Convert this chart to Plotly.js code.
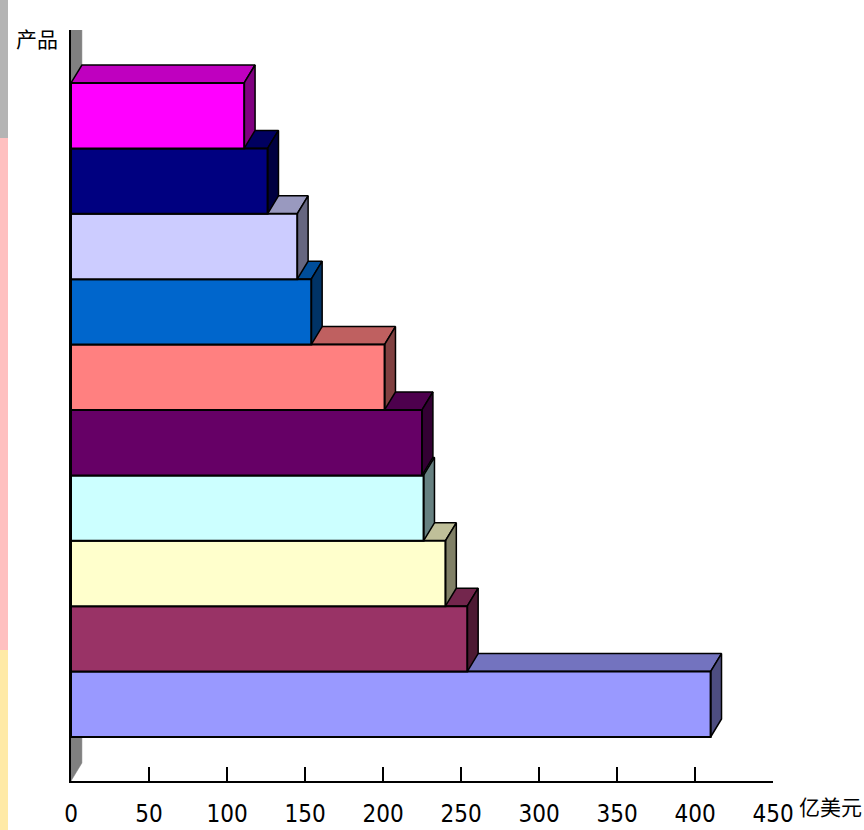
<!DOCTYPE html>
<html>
<head>
<meta charset="utf-8">
<script src="https://cdn.plot.ly/plotly-3.0.1.min.js"></script>
<style>html,body{margin:0;padding:0;background:#fff;}#chart{width:864px;height:830px;}</style>
</head>
<body>
<div id="chart"></div>
<script>
// Data (bottom to top)
const categories = ['产品1','产品2','产品3','产品4','产品5','产品6','产品7','产品8','产品9','产品10'];
const values = [410, 254, 240, 226, 225, 201, 154, 145, 126, 111];
const colors = ['#9999FF','#993366','#FFFFCC','#CCFFFF','#660066','#FF8080','#0066CC','#CCCCFF','#000080','#FF00FF'];
const xTicks = [0, 50, 100, 150, 200, 250, 300, 350, 400, 450];
const xTitle = '亿美元';
const yTitle = '产品';

// 3D depth (in axis units) - style
const DX = 7, DY = 0.275;
const Y_MIN = -1.173, Y_MAX = 10.31;

function shade(hex, f) {
  const r = parseInt(hex.slice(1,3),16), g = parseInt(hex.slice(3,5),16), b = parseInt(hex.slice(5,7),16);
  const c = v => Math.round(v*f).toString(16).padStart(2,'0');
  return '#' + c(r) + c(g) + c(b);
}
function poly(xs, ys, fill, name) {
  return {type:'scatter', mode:'lines', x: xs.concat([xs[0]]), y: ys.concat([ys[0]]),
    fill:'toself', fillcolor: fill, line:{color:'#000', width:1.5}, hoverinfo:'skip', showlegend:false, name:name};
}

const traces = [];
// left wall
traces.push(poly([0, 0, DX, DX], [Y_MIN, Y_MAX, Y_MAX + DY, Y_MIN + DY], '#808080', 'wall'));
traces[0].line = {color:'#808080', width:0.5};

categories.forEach((cat, i) => {
  const v = values[i], y0 = i - 0.5, y1 = i + 0.5, c = colors[i];
  // top face
  traces.push(poly([0, v, v + DX, DX], [y1, y1, y1 + DY, y1 + DY], shade(c, 0.75), cat + ' top'));
  // side face
  traces.push(poly([v, v + DX, v + DX, v], [y0, y0 + DY, y1 + DY, y1], shade(c, 0.5), cat + ' side'));
  // front face
  const f = poly([0, v, v, 0], [y0, y0, y1, y1], c, cat);
  f.line = {color:'#000', width:2};
  f.hoverinfo = 'text'; f.text = cat + ': ' + v; f.hoveron = 'fills';
  traces.push(f);
});

const layout = {
  width: 864, height: 830,
  margin: {l: 71, r: 91, t: 30, b: 49},
  paper_bgcolor: '#fff', plot_bgcolor: '#fff',
  showlegend: false,
  xaxis: {
    range: [0, 450], tickvals: xTicks, ticktext: xTicks.map(String),
    showline: true, linecolor: '#000', linewidth: 2,
    ticks: 'inside', ticklen: 14, tickwidth: 1.5, tickcolor: '#000',
    showgrid: false, zeroline: false, fixedrange: true,
    tickfont: {family: 'Liberation Sans Narrow, DejaVu Sans Condensed, Liberation Sans, sans-serif', size: 24, color: '#000'},
    ticklabelstandoff: 10
  },
  yaxis: {
    range: [Y_MIN, Y_MAX], showline: true, linecolor: '#000', linewidth: 2,
    showticklabels: false, ticks: '', showgrid: false, zeroline: false, fixedrange: true
  },
  shapes: [
    {type:'rect', xref:'paper', yref:'paper', x0:-71/702, x1:-63/702, y0:(781-138)/751, y1:(781-0)/751, fillcolor:'#B4B4B4', line:{width:0}, layer:'below'},
    {type:'rect', xref:'paper', yref:'paper', x0:-71/702, x1:-63/702, y0:(781-650)/751, y1:(781-138)/751, fillcolor:'#FFC0C0', line:{width:0}, layer:'below'},
    {type:'rect', xref:'paper', yref:'paper', x0:-71/702, x1:-63/702, y0:(781-830)/751, y1:(781-650)/751, fillcolor:'#FFEAA6', line:{width:0}, layer:'below'}
  ],
  annotations: [
    {text: yTitle, xref:'paper', yref:'paper', x:(14-71)/702, y:(781-38)/751, xanchor:'left', yanchor:'middle', showarrow:false,
     font:{family:'Noto Sans CJK SC, sans-serif', size:21, color:'#000'}},
    {text: xTitle, xref:'paper', yref:'paper', x:(797-71)/702, y:(781-806)/751, xanchor:'left', yanchor:'middle', showarrow:false,
     font:{family:'Noto Sans CJK SC, sans-serif', size:21, color:'#000'}}
  ]
};

Plotly.newPlot('chart', traces, layout, {displayModeBar:false, staticPlot:false});
</script>
</body>
</html>
